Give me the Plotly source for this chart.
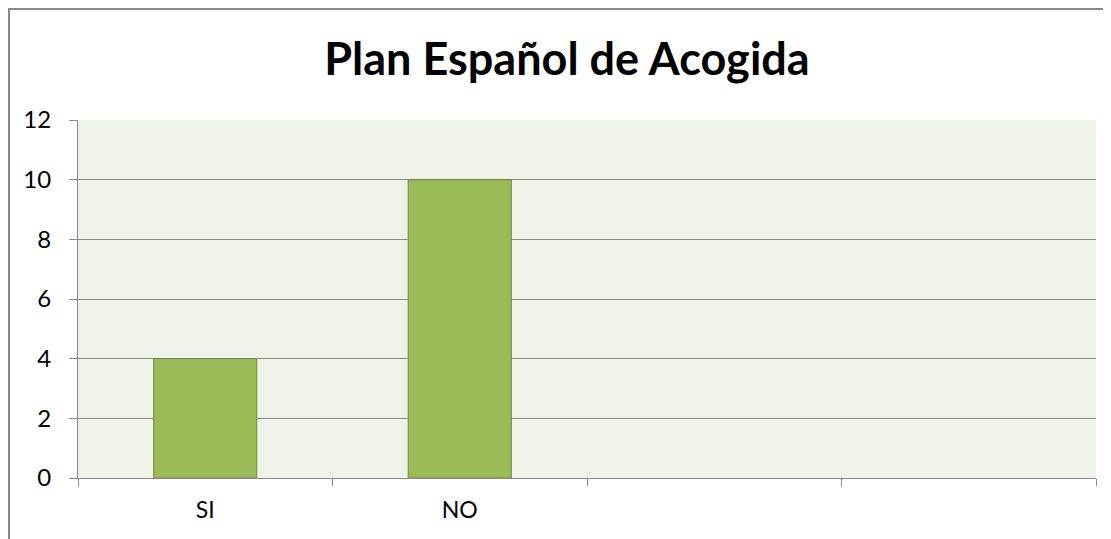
import plotly.graph_objects as go

categories = ["SI", "NO", " ", "  "]
values = [4, 10, None, None]
y_ticks = [0, 2, 4, 6, 8, 10, 12]
title_text = "Plan Español de Acogida"

# page has an 8px body margin, so the figure is drawn 8px in from the top-left
W, H = 1103, 531
L, R, T, B = 70, 15, 112, 61
pw = W - L - R
ph = H - T - B

fig = go.Figure()
fig.add_trace(go.Bar(
    x=categories, y=values,
    marker=dict(color="#9BBB59", line=dict(color="#71893F", width=1)),
    hoverinfo="skip",
))

# outer chart frame (left and top edges visible)
fx0 = (1 - L) / pw
fy1 = (H - B - 1) / ph
fig.add_shape(type="rect", xref="paper", yref="paper",
              x0=fx0, x1=1.2, y0=-0.5, y1=fy1,
              line=dict(color="#888888", width=2), fillcolor="rgba(0,0,0,0)", layer="below")

fig.update_layout(
    width=W, height=H,
    margin=dict(l=L, r=R, t=T, b=B, pad=0),
    paper_bgcolor="white",
    plot_bgcolor="#EFF2E9",
    showlegend=False,
    bargap=0.595,
    font=dict(family="Lato, Calibri, sans-serif", color="#000000"),
    title=dict(text="<b>" + title_text + "</b>", x=559 / W, xanchor="center",
               xref="container", yref="container", y=1 - 51 / H, yanchor="middle",
               font=dict(size=45, family="Lato, sans-serif", color="#000000")),
    xaxis=dict(
        type="category", categoryorder="array", categoryarray=categories,
        tickson="boundaries", ticks="outside", ticklen=7, tickcolor="#8A8A8A", tickwidth=1,
        showline=True, linecolor="#8A8A8A", linewidth=1, showgrid=False,
        tickfont=dict(size=23), ticklabelstandoff=11,
        range=[-0.5, 3.5], fixedrange=True,
    ),
    yaxis=dict(
        range=[0, 12], tickvals=y_ticks, ticks="outside", ticklen=8, tickcolor="#8A8A8A",
        showline=True, linecolor="#8A8A8A", linewidth=1,
        showgrid=True, gridcolor="#8A8A8A", gridwidth=1, zeroline=False,
        tickfont=dict(size=24), ticklabelstandoff=13, fixedrange=True,
    ),
)

fig.write_html("out.html")
